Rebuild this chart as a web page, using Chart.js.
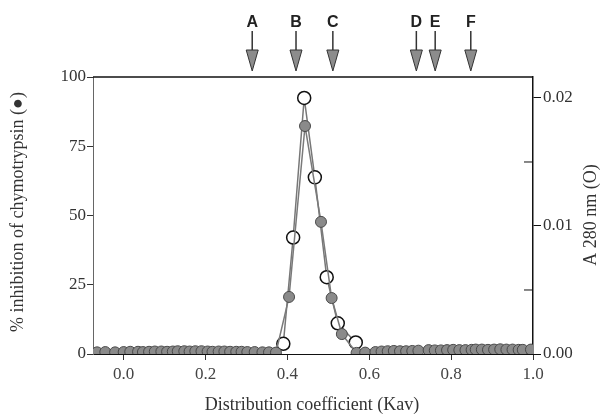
<!DOCTYPE html>
<html>
<head>
<meta charset="utf-8">
<script src="https://cdn.jsdelivr.net/npm/chart.js@4"></script>
<style>
  body { margin: 0; background: #fff; }
</style>
</head>
<body>
<canvas id="myChart" width="609" height="419"></canvas>
<script>
// filled circles: % inhibition of chymotrypsin
const kavFilled = [-0.065, -0.045, -0.021, 0.0, 0.016, 0.035, 0.047, 0.062, 0.076, 0.092, 0.106, 0.12, 0.132, 0.148, 0.161, 0.175, 0.19, 0.205,
  0.217, 0.232, 0.246, 0.26, 0.275, 0.288, 0.302, 0.32, 0.339, 0.355, 0.372,
  0.404, 0.443, 0.482, 0.508, 0.533, 0.569,
  0.59, 0.615, 0.63, 0.645, 0.66, 0.675, 0.69, 0.705, 0.72, 0.745, 0.76, 0.775, 0.79, 0.805, 0.82, 0.835, 0.85, 0.86, 0.875,
  0.89, 0.905, 0.92, 0.935, 0.95, 0.965, 0.975, 0.995]
const inhibition = [0.6, 0.7, 0.6, 0.7, 0.8, 0.8, 0.7, 0.8, 0.9, 0.9, 0.8, 0.9, 1.0, 1.0, 0.9, 1.0, 1.0, 0.9,
  0.8, 0.9, 0.9, 0.8, 0.8, 0.8, 0.7, 0.7, 0.6, 0.6, 0.5,
  20.6, 82.3, 47.7, 20.2, 7.2, 0.4,
  0.5, 0.7, 0.9, 1.0, 1.1, 1.0, 1.0, 1.1, 1.2, 1.4, 1.3, 1.3, 1.4, 1.5, 1.4, 1.4, 1.5, 1.6, 1.6,
  1.5, 1.6, 1.7, 1.6, 1.6, 1.5, 1.5, 1.6]

// open circles: A 280 nm
const kavOpen = [0.390, 0.414, 0.441, 0.467, 0.496, 0.523, 0.567]
const a280 = [0.0008, 0.0091, 0.0200, 0.0138, 0.0060, 0.0024, 0.0009]

// calibration markers on top
const markerKav = [0.314, 0.421, 0.511, 0.715, 0.761, 0.848]
const markerLabels = ['A', 'B', 'C', 'D', 'E', 'F']

const xTicks = [0, 0.2, 0.4, 0.6, 0.8, 1.0]
const leftTicks = [0, 25, 50, 75, 100]
const rightTicks = [0, 0.005, 0.01, 0.015, 0.02]

const SERIF = '"Liberation Serif", "DejaVu Serif", serif'

function toPoints(xs, ys) {
  return xs.map((x, i) => ({ x: x, y: ys[i] }))
}

const extras = {
  id: 'extras',
  afterDraw(chart) {
    const ctx = chart.ctx
    const area = chart.chartArea
    const x = chart.scales.x
    const y2 = chart.scales.y2

    ctx.save()
    // top frame
    ctx.strokeStyle = '#111'
    ctx.lineWidth = 1.5
    ctx.beginPath()
    ctx.moveTo(area.left, area.top)
    ctx.lineTo(area.right, area.top)
    ctx.stroke()

    // minor ticks on right axis (inward)
    ctx.lineWidth = 1
    ;[1, 3].forEach(i => {
      const py = y2.getPixelForValue(rightTicks[i])
      ctx.beginPath()
      ctx.moveTo(area.right - 9, py)
      ctx.lineTo(area.right, py)
      ctx.stroke()
    })

    // arrows
    markerKav.forEach((k, i) => {
      const px = x.getPixelForValue(k)
      ctx.fillStyle = '#222'
      ctx.font = 'bold 16px "Liberation Sans", Arial, sans-serif'
      ctx.textAlign = 'center'
      ctx.textBaseline = 'middle'
      ctx.fillText(markerLabels[i], px, 23)
      ctx.strokeStyle = '#333'
      ctx.lineWidth = 1.5
      ctx.beginPath()
      ctx.moveTo(px, 31)
      ctx.lineTo(px, 52)
      ctx.stroke()
      ctx.fillStyle = '#8c8c8c'
      ctx.lineWidth = 1
      ctx.beginPath()
      ctx.moveTo(px - 6, 50)
      ctx.lineTo(px + 6, 50)
      ctx.lineTo(px, 71)
      ctx.closePath()
      ctx.fill()
      ctx.stroke()
    })

    // axis titles
    ctx.fillStyle = '#333'
    ctx.font = '18px ' + SERIF
    ctx.textAlign = 'center'
    ctx.textBaseline = 'middle'
    ctx.fillText('Distribution coefficient (Kav)', 312, 405)

    ctx.save()
    ctx.translate(18, 212)
    ctx.rotate(-Math.PI / 2)
    ctx.fillText('% inhibition of chymotrypsin (\u25CF)', 0, 0)
    ctx.restore()

    ctx.save()
    ctx.translate(591, 215)
    ctx.rotate(-Math.PI / 2)
    ctx.fillText('A 280 nm (O)', 0, 0)
    ctx.restore()

    ctx.restore()
  }
}

const ctx = document.getElementById('myChart').getContext('2d')
const chart = new Chart(ctx, {
  type: 'scatter',
  data: {
    datasets: [
      {
        label: 'A 280 nm',
        data: toPoints(kavOpen, a280),
        yAxisID: 'y2',
        showLine: true,
        borderColor: '#777',
        borderWidth: 1.5,
        pointRadius: 6.5,
        pointBackgroundColor: '#fff',
        pointBorderColor: '#111',
        pointBorderWidth: 1.5,
        order: 2
      },
      {
        label: '% inhibition',
        data: toPoints(kavFilled, inhibition),
        yAxisID: 'y',
        showLine: true,
        borderColor: '#7a7a7a',
        borderWidth: 1.5,
        pointRadius: 5.5,
        pointBackgroundColor: '#8a8a8a',
        pointBorderColor: '#4a4a4a',
        pointBorderWidth: 1,
        order: 1
      }
    ]
  },
  plugins: [extras],
  options: {
    responsive: false,
    animation: false,
    layout: { padding: { top: 77, left: 0, right: 0, bottom: 0 } },
    plugins: {
      legend: { display: false },
      tooltip: { enabled: false }
    },
    scales: {
      x: {
        type: 'linear',
        min: -0.075,
        max: 1.0,
        afterBuildTicks: s => { s.ticks = xTicks.map(v => ({ value: v })) },
        afterFit: s => { s.height = 65 },
        border: { color: '#111', width: 1 },
        grid: { drawOnChartArea: false, tickLength: 6, color: '#333' },
        ticks: {
          color: '#444',
          padding: 4,
          font: { family: SERIF, size: 17 },
          callback: v => v.toFixed(1)
        }
      },
      y: {
        position: 'left',
        min: 0,
        max: 100,
        afterBuildTicks: s => { s.ticks = leftTicks.map(v => ({ value: v })) },
        afterFit: s => { s.width = 93 },
        border: { color: '#666', width: 1 },
        grid: { drawOnChartArea: false, tickLength: 6, color: '#333' },
        ticks: {
          color: '#333',
          padding: 1,
          font: { family: SERIF, size: 17 }
        }
      },
      y2: {
        position: 'right',
        min: 0,
        max: 0.02164,
        afterBuildTicks: s => { s.ticks = rightTicks.map(v => ({ value: v })) },
        afterFit: s => { s.width = 76 },
        border: { color: '#111', width: 1.5 },
        grid: {
          drawOnChartArea: false,
          tickLength: 8,
          color: c => (c.index % 2 === 0 ? '#111' : 'rgba(0,0,0,0)')
        },
        ticks: {
          color: '#333',
          padding: 2,
          font: { family: SERIF, size: 17 },
          callback: (v, i) => (i % 2 === 0 ? v.toFixed(2) : '')
        }
      }
    }
  }
})
</script>
</body>
</html>
